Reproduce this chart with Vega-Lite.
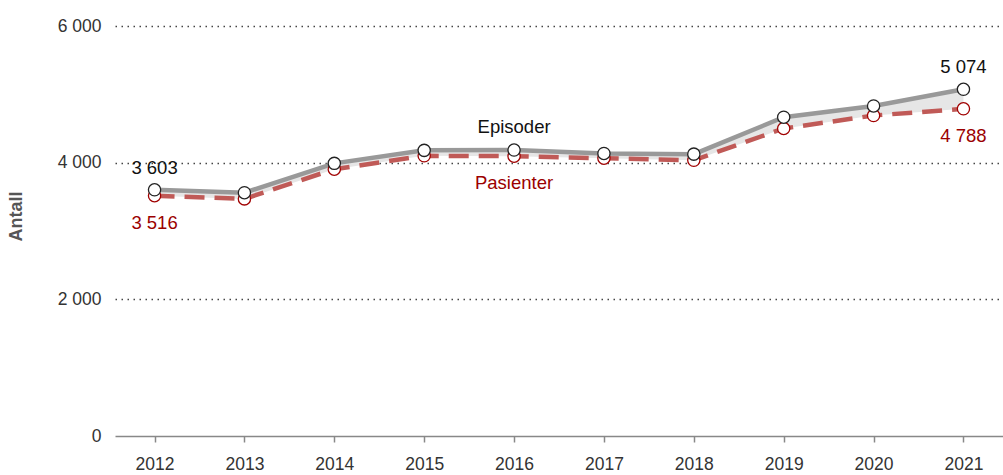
{
  "$schema": "https://vega.github.io/schema/vega-lite/v6.json",
  "width": 888,
  "height": 410,
  "autosize": {"type": "none"},
  "padding": {"left": 115, "top": 26, "right": 0, "bottom": 39},
  "config": {
    "view": {"stroke": null},
    "font": "Liberation Sans",
    "locale": {"number": {"decimal": ",", "thousands": " ", "grouping": [3], "currency": ["", " kr"]}}
  },
  "data": {
    "values": [
      {"year": "2012", "serie": "Episoder", "value": 3603},
      {"year": "2013", "serie": "Episoder", "value": 3560},
      {"year": "2014", "serie": "Episoder", "value": 3990},
      {"year": "2015", "serie": "Episoder", "value": 4180},
      {"year": "2016", "serie": "Episoder", "value": 4185},
      {"year": "2017", "serie": "Episoder", "value": 4135},
      {"year": "2018", "serie": "Episoder", "value": 4125},
      {"year": "2019", "serie": "Episoder", "value": 4665},
      {"year": "2020", "serie": "Episoder", "value": 4830},
      {"year": "2021", "serie": "Episoder", "value": 5074},
      {"year": "2012", "serie": "Pasienter", "value": 3516},
      {"year": "2013", "serie": "Pasienter", "value": 3470},
      {"year": "2014", "serie": "Pasienter", "value": 3905},
      {"year": "2015", "serie": "Pasienter", "value": 4100},
      {"year": "2016", "serie": "Pasienter", "value": 4095},
      {"year": "2017", "serie": "Pasienter", "value": 4065},
      {"year": "2018", "serie": "Pasienter", "value": 4035},
      {"year": "2019", "serie": "Pasienter", "value": 4500},
      {"year": "2020", "serie": "Pasienter", "value": 4690},
      {"year": "2021", "serie": "Pasienter", "value": 4788}
    ]
  },
  "encoding": {
    "x": {
      "field": "year", "type": "ordinal",
      "scale": {"type": "point", "padding": 0.44},
      "axis": {
        "title": null, "labelAngle": 0, "labelFontSize": 17.5, "labelColor": "#333",
        "domainColor": "#888", "domainWidth": 1.5, "tickColor": "#888", "tickWidth": 1.5,
        "tickSize": 6, "labelPadding": 13, "grid": false
      }
    },
    "y": {
      "field": "value", "type": "quantitative",
      "scale": {"domain": [0, 6000], "nice": false},
      "axis": {
        "title": "Antall", "titleFontSize": 18, "titleFontWeight": "bold", "titleColor": "#555",
        "titleX": -90, "titleY": 190, "titleAngle": -90,
        "values": [0, 2000, 4000, 6000], "format": ",d",
        "labelFontSize": 17.5, "labelColor": "#333", "labelPadding": 14,
        "domain": false, "ticks": false,
        "grid": true, "gridColor": "#444", "gridDash": [1.5, 4.5], "gridWidth": 1.5,
        "gridOpacity": {"condition": {"test": "datum.value == 0", "value": 0}, "value": 1}
      }
    }
  },
  "layer": [
    {
      "transform": [{"pivot": "serie", "value": "value", "groupby": ["year"]}],
      "mark": {"type": "area", "color": "#e6e6e6"},
      "encoding": {
        "y": {"field": "Episoder", "type": "quantitative"},
        "y2": {"field": "Pasienter"}
      }
    },
    {
      "transform": [{"filter": "datum.serie == 'Pasienter'"}],
      "mark": {"type": "line", "color": "#c05a57", "strokeWidth": 4.5, "strokeDash": [20, 10]}
    },
    {
      "transform": [{"filter": "datum.serie == 'Episoder'"}],
      "mark": {"type": "line", "color": "#999999", "strokeWidth": 4.5}
    },
    {
      "transform": [{"filter": "datum.serie == 'Pasienter'"}],
      "mark": {"type": "point", "shape": "circle", "filled": true, "fill": "white", "stroke": "#a00000", "strokeWidth": 1.3, "size": 150, "opacity": 1}
    },
    {
      "transform": [{"filter": "datum.serie == 'Episoder'"}],
      "mark": {"type": "point", "shape": "circle", "filled": true, "fill": "white", "stroke": "#222", "strokeWidth": 1.3, "size": 150, "opacity": 1}
    },
    {
      "transform": [{"filter": "datum.serie == 'Episoder' && (datum.year == '2012' || datum.year == '2021')"}],
      "mark": {"type": "text", "fontSize": 18.5, "color": "#111", "baseline": "alphabetic", "dy": -16},
      "encoding": {"text": {"field": "value", "type": "quantitative", "format": ",d"}}
    },
    {
      "transform": [{"filter": "datum.serie == 'Pasienter' && (datum.year == '2012' || datum.year == '2021')"}],
      "mark": {"type": "text", "fontSize": 18.5, "color": "#9b0000", "baseline": "alphabetic", "dy": 33},
      "encoding": {"text": {"field": "value", "type": "quantitative", "format": ",d"}}
    },
    {
      "transform": [{"filter": "datum.serie == 'Episoder' && datum.year == '2016'"}],
      "mark": {"type": "text", "fontSize": 18.5, "color": "#111", "baseline": "alphabetic", "dy": -17},
      "encoding": {"text": {"field": "serie", "type": "nominal"}}
    },
    {
      "transform": [{"filter": "datum.serie == 'Pasienter' && datum.year == '2016'"}],
      "mark": {"type": "text", "fontSize": 18.5, "color": "#9b0000", "baseline": "alphabetic", "dy": 33},
      "encoding": {"text": {"field": "serie", "type": "nominal"}}
    }
  ]
}
